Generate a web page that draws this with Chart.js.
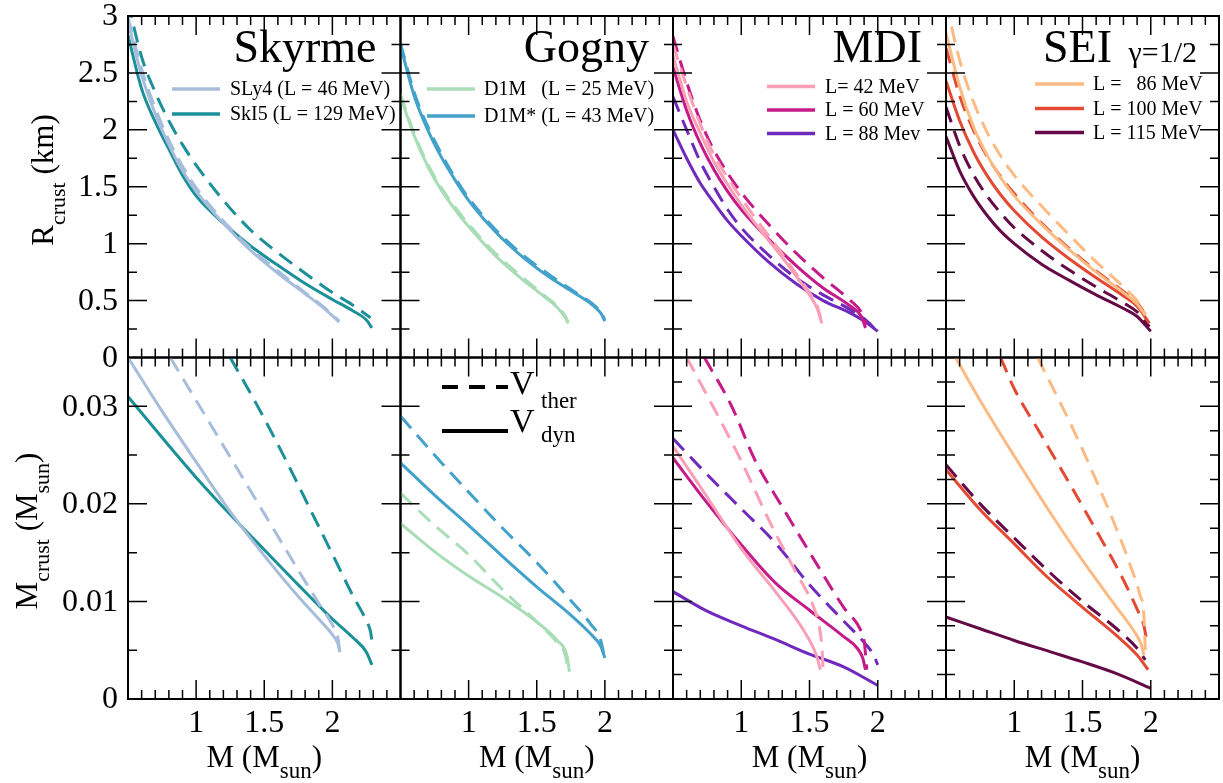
<!DOCTYPE html>
<html>
<head>
<meta charset="utf-8">
<title>Crust thickness and crust mass</title>
<script src="https://cdn.jsdelivr.net/npm/chart.js@4.4.0/dist/chart.umd.min.js"></script>
<style>
    body { margin: 0; background: #fff; font-family: "Liberation Serif", serif; }
    #wrap { position: relative; width: 1223px; height: 783px; }
    #wrap canvas { position: absolute; left: 0; top: 0; }
</style>
</head>
<body>
<div id="wrap"></div>
<script>
// Tick labels
const massTicks = ['1', '1.5', '2'];
const radiusTicks = ['0', '0.5', '1', '1.5', '2', '2.5', '3'];
const crustMassTicks = ['0', '0.01', '0.02', '0.03'];

// Legend labels
const skyrmeLabels = ['SLy4 (L = 46 MeV)', 'SkI5 (L = 129 MeV)'];
const gognyLabels = ['D1M   (L = 25 MeV)', 'D1M* (L = 43 MeV)'];
const mdiLabels = ['L= 42 MeV', 'L = 60 MeV', 'L = 88 Mev'];
const seiLabels = ['L =   86 MeV', 'L = 100 MeV', 'L = 115 MeV'];

// Skyrme - R_crust (km) vs M (Msun)
const sly4Rdyn = [[0.5,2.95],[0.6,2.48],[0.7,2.14],[0.8,1.87],[0.9,1.64],[1.0,1.46],[1.2,1.18],[1.4,0.94],[1.6,0.74],[1.8,0.56],[1.95,0.42],[2.05,0.31]];
const sly4Rther = [[0.5,2.99],[0.6,2.53],[0.7,2.19],[0.8,1.91],[0.9,1.68],[1.0,1.49],[1.2,1.2],[1.4,0.96],[1.6,0.76],[1.8,0.57],[1.95,0.43],[2.05,0.32]];
const ski5Rdyn = [[0.5,2.83],[0.6,2.36],[0.7,2.07],[0.8,1.83],[0.9,1.6],[1.0,1.42],[1.2,1.18],[1.4,0.98],[1.6,0.81],[1.8,0.65],[2.0,0.51],[2.15,0.41],[2.25,0.33],[2.29,0.26]];
const ski5Rther = [[0.5,3.12],[0.6,2.64],[0.7,2.33],[0.8,2.08],[0.9,1.87],[1.0,1.69],[1.2,1.38],[1.4,1.12],[1.6,0.92],[1.8,0.74],[2.0,0.57],[2.15,0.46],[2.28,0.35]];

// Skyrme - M_crust (Msun)
const sly4Mdyn = [[0.5,0.035],[0.75,0.0295],[1.0,0.0243],[1.25,0.0192],[1.5,0.0147],[1.75,0.0105],[1.9,0.0082],[2.0,0.0066],[2.04,0.0057],[2.055,0.0048]];
const sly4Mther = [[0.81,0.035],[1.0,0.0306],[1.25,0.0248],[1.5,0.019],[1.75,0.0132],[1.9,0.0098],[2.0,0.0076],[2.04,0.0063],[2.055,0.0047]];
const ski5Mdyn = [[0.5,0.031],[0.75,0.0268],[1.0,0.0227],[1.25,0.0189],[1.5,0.0153],[1.75,0.0117],[2.0,0.0082],[2.15,0.0063],[2.25,0.0048],[2.29,0.0035]];
const ski5Mther = [[1.25,0.035],[1.44,0.0303],[1.64,0.025],[1.86,0.0188],[2.03,0.014],[2.15,0.0106],[2.25,0.008],[2.28,0.0069],[2.29,0.006]];

// Gogny
const d1mRdyn = [[0.5,2.29],[0.6,1.95],[0.7,1.68],[0.8,1.47],[0.9,1.3],[1.0,1.15],[1.2,0.89],[1.4,0.68],[1.55,0.54],[1.65,0.44],[1.71,0.35],[1.73,0.3]];
const d1mRther = [[0.5,2.31],[0.6,1.97],[0.7,1.7],[0.8,1.49],[0.9,1.32],[1.0,1.17],[1.2,0.91],[1.4,0.7],[1.55,0.55],[1.65,0.45],[1.71,0.36],[1.73,0.31]];
const d1msRdyn = [[0.5,2.74],[0.6,2.3],[0.7,2.0],[0.8,1.76],[0.9,1.56],[1.0,1.38],[1.2,1.1],[1.4,0.88],[1.6,0.7],[1.8,0.55],[1.9,0.47],[1.97,0.39],[2.0,0.32]];
const d1msRther = [[0.5,2.76],[0.6,2.33],[0.7,2.03],[0.8,1.79],[0.9,1.58],[1.0,1.4],[1.2,1.12],[1.4,0.9],[1.6,0.72],[1.8,0.56],[1.9,0.48],[1.97,0.4],[2.0,0.33]];

const d1mMdyn = [[0.5,0.018],[0.75,0.0151],[1.0,0.0126],[1.25,0.0104],[1.5,0.0079],[1.65,0.006],[1.72,0.0045],[1.74,0.0028]];
const d1mMther = [[0.5,0.0211],[0.75,0.0178],[1.0,0.0148],[1.25,0.0112],[1.5,0.0079],[1.65,0.0058],[1.71,0.0045],[1.73,0.003]];
const d1msMdyn = [[0.5,0.0242],[0.75,0.0209],[1.0,0.0178],[1.25,0.0146],[1.5,0.0115],[1.75,0.0086],[1.9,0.0066],[1.97,0.0054],[2.0,0.0042]];
const d1msMther = [[0.5,0.029],[0.75,0.025],[1.0,0.0212],[1.25,0.0175],[1.5,0.014],[1.75,0.0101],[1.9,0.0076],[1.97,0.006],[2.0,0.004]];

// MDI
const mdi42Rdyn = [[0.5,2.65],[0.6,2.25],[0.7,1.97],[0.8,1.72],[0.9,1.52],[1.0,1.34],[1.1,1.18],[1.2,1.03],[1.3,0.88],[1.4,0.72],[1.5,0.55],[1.56,0.42],[1.59,0.3]];
const mdi42Rther = [[0.5,2.75],[0.6,2.38],[0.7,2.05],[0.8,1.78],[0.9,1.58],[1.0,1.4],[1.1,1.23],[1.2,1.07],[1.3,0.91],[1.4,0.74],[1.5,0.57],[1.56,0.44],[1.59,0.3]];
const mdi60Rdyn = [[0.5,2.55],[0.6,2.17],[0.7,1.88],[0.8,1.65],[0.9,1.46],[1.0,1.3],[1.2,1.04],[1.4,0.81],[1.6,0.61],[1.8,0.45],[1.88,0.36],[1.91,0.26]];
const mdi60Rther = [[0.5,2.82],[0.6,2.42],[0.7,2.08],[0.8,1.82],[0.9,1.62],[1.0,1.45],[1.2,1.17],[1.4,0.92],[1.6,0.7],[1.8,0.5],[1.88,0.4],[1.92,0.29]];
const mdi88Rdyn = [[0.5,2.0],[0.6,1.75],[0.7,1.53],[0.8,1.36],[0.9,1.2],[1.0,1.07],[1.2,0.84],[1.4,0.65],[1.6,0.5],[1.8,0.39],[1.9,0.32],[2.0,0.23]];
const mdi88Rther = [[0.5,2.29],[0.6,2.0],[0.7,1.72],[0.8,1.5],[0.9,1.3],[1.0,1.14],[1.2,0.9],[1.4,0.7],[1.6,0.55],[1.8,0.42],[1.9,0.34],[1.99,0.24]];

const mdi42Mdyn = [[0.5,0.0259],[0.75,0.0207],[1.0,0.0154],[1.25,0.011],[1.45,0.0072],[1.55,0.0045],[1.58,0.003]];
const mdi42Mther = [[0.6,0.035],[0.8,0.0298],[1.0,0.0244],[1.2,0.0184],[1.4,0.013],[1.52,0.0098],[1.57,0.0075],[1.59,0.0055],[1.6,0.003]];
const mdi60Mdyn = [[0.5,0.0247],[0.75,0.0201],[1.0,0.0158],[1.25,0.0119],[1.5,0.0091],[1.75,0.0064],[1.85,0.0052],[1.89,0.0042],[1.91,0.003]];
const mdi60Mther = [[0.73,0.035],[0.93,0.03],[1.1,0.0245],[1.3,0.0197],[1.55,0.0139],[1.75,0.0094],[1.87,0.0072],[1.9,0.006],[1.92,0.003]];
const mdi88Mdyn = [[0.5,0.011],[0.75,0.009],[1.0,0.0075],[1.25,0.0061],[1.5,0.0046],[1.75,0.0033],[2.0,0.0014]];
const mdi88Mther = [[0.5,0.0267],[0.75,0.023],[1.0,0.0195],[1.25,0.016],[1.5,0.0117],[1.75,0.008],[1.9,0.0058],[1.97,0.0045],[2.0,0.0035]];

// SEI gamma = 1/2
const sei86Rdyn = [[0.5,2.85],[0.6,2.38],[0.7,2.03],[0.8,1.78],[0.9,1.58],[1.0,1.42],[1.2,1.17],[1.4,0.95],[1.6,0.75],[1.8,0.57],[1.9,0.47],[1.96,0.37]];
const sei86Rther = [[0.5,3.12],[0.6,2.61],[0.7,2.25],[0.8,1.98],[0.9,1.77],[1.0,1.6],[1.2,1.33],[1.4,1.08],[1.6,0.84],[1.8,0.62],[1.9,0.5],[1.96,0.38]];
const sei100Rdyn = [[0.5,2.43],[0.6,2.08],[0.7,1.81],[0.8,1.6],[0.9,1.43],[1.0,1.29],[1.2,1.06],[1.4,0.87],[1.6,0.7],[1.8,0.54],[1.9,0.45],[1.99,0.3]];
const sei100Rther = [[0.5,2.72],[0.6,2.3],[0.7,2.0],[0.8,1.77],[0.9,1.59],[1.0,1.44],[1.2,1.18],[1.4,0.96],[1.6,0.76],[1.8,0.58],[1.9,0.48],[1.98,0.34]];
const sei115Rdyn = [[0.5,1.94],[0.6,1.64],[0.7,1.42],[0.8,1.25],[0.9,1.11],[1.0,1.0],[1.2,0.82],[1.4,0.68],[1.6,0.55],[1.8,0.43],[1.9,0.36],[2.0,0.23]];
const sei115Rther = [[0.5,2.2],[0.6,1.86],[0.7,1.61],[0.8,1.42],[0.9,1.27],[1.0,1.14],[1.2,0.94],[1.4,0.77],[1.6,0.62],[1.8,0.48],[1.9,0.4],[1.99,0.27]];

const sei86Mdyn = [[0.57,0.035],[0.75,0.0306],[1.0,0.0249],[1.25,0.0194],[1.5,0.0142],[1.75,0.0094],[1.88,0.0069],[1.93,0.0056],[1.95,0.0045]];
const sei86Mther = [[1.17,0.035],[1.3,0.0314],[1.45,0.0271],[1.6,0.0224],[1.75,0.0174],[1.85,0.0137],[1.92,0.0107],[1.95,0.0085],[1.96,0.005]];
const sei100Mdyn = [[0.5,0.0235],[0.75,0.0194],[1.0,0.0159],[1.25,0.0124],[1.5,0.0094],[1.75,0.0065],[1.9,0.0045],[1.98,0.003]];
const sei100Mther = [[0.9,0.035],[1.0,0.0318],[1.2,0.027],[1.4,0.0222],[1.6,0.0173],[1.8,0.0122],[1.9,0.0092],[1.95,0.0075],[1.97,0.006]];
const sei115Mdyn = [[0.5,0.0084],[0.75,0.0072],[1.0,0.006],[1.25,0.0049],[1.5,0.0038],[1.75,0.0026],[2.0,0.0011]];
const sei115Mther = [[0.5,0.024],[0.75,0.02],[1.0,0.0165],[1.25,0.0131],[1.5,0.01],[1.75,0.0072],[1.9,0.0052],[1.96,0.004]];

// Colours
const colors = {
    sly4: '#a6bddb', ski5: '#1c9099',
    d1m: '#a8ddb5', d1ms: '#43a2ca',
    mdi42: '#fa9fb5', mdi60: '#c51b8a', mdi88: '#7029bd',
    sei86: '#fdbb84', sei100: '#e34a33', sei115: '#640a46'
};

// Frame of the 2 x 4 grid (page pixels)
const COLS = [128, 400.5, 673, 946, 1219];
const ROWS = [16, 357.5, 699];
const W = 1223, H = 783;
const SERIF = '"Liberation Serif", serif';

function curve(points, color, dashed) {
    return { points, color, dashed };
}

const panels = [
    { col: 0, row: 0, title: 'Skyrme', legend: { labels: skyrmeLabels, colors: [colors.sly4, colors.ski5], x0: 172, x1: 220, tx: 230, ys: [89, 114] },
      series: [curve(sly4Rdyn, colors.sly4), curve(sly4Rther, colors.sly4, true), curve(ski5Rdyn, colors.ski5), curve(ski5Rther, colors.ski5, true)] },
    { col: 1, row: 0, title: 'Gogny', legend: { labels: gognyLabels, colors: [colors.d1m, colors.d1ms], x0: 427, x1: 475, tx: 484, ys: [89, 116] },
      series: [curve(d1mRdyn, colors.d1m), curve(d1mRther, colors.d1m, true), curve(d1msRdyn, colors.d1ms), curve(d1msRther, colors.d1ms, true)] },
    { col: 2, row: 0, title: 'MDI', legend: { labels: mdiLabels, colors: [colors.mdi42, colors.mdi60, colors.mdi88], x0: 767, x1: 815, tx: 825, ys: [86.5, 110, 133.5] },
      series: [curve(mdi42Rdyn, colors.mdi42), curve(mdi42Rther, colors.mdi42, true), curve(mdi60Rdyn, colors.mdi60), curve(mdi60Rther, colors.mdi60, true),
               curve(mdi88Rdyn, colors.mdi88), curve(mdi88Rther, colors.mdi88, true)] },
    { col: 3, row: 0, title: 'SEI', legend: { labels: seiLabels, colors: [colors.sei86, colors.sei100, colors.sei115], x0: 1035, x1: 1084, tx: 1093, ys: [84, 108.5, 132.5] },
      series: [curve(sei86Rdyn, colors.sei86), curve(sei86Rther, colors.sei86, true), curve(sei100Rdyn, colors.sei100), curve(sei100Rther, colors.sei100, true),
               curve(sei115Rdyn, colors.sei115), curve(sei115Rther, colors.sei115, true)] },
    { col: 0, row: 1,
      series: [curve(sly4Mdyn, colors.sly4), curve(sly4Mther, colors.sly4, true), curve(ski5Mdyn, colors.ski5), curve(ski5Mther, colors.ski5, true)] },
    { col: 1, row: 1, vLegend: true,
      series: [curve(d1mMdyn, colors.d1m), curve(d1mMther, colors.d1m, true), curve(d1msMdyn, colors.d1ms), curve(d1msMther, colors.d1ms, true)] },
    { col: 2, row: 1,
      series: [curve(mdi42Mdyn, colors.mdi42), curve(mdi42Mther, colors.mdi42, true), curve(mdi60Mdyn, colors.mdi60), curve(mdi60Mther, colors.mdi60, true),
               curve(mdi88Mdyn, colors.mdi88), curve(mdi88Mther, colors.mdi88, true)] },
    { col: 3, row: 1,
      series: [curve(sei86Mdyn, colors.sei86), curve(sei86Mther, colors.sei86, true), curve(sei100Mdyn, colors.sei100), curve(sei100Mther, colors.sei100, true),
               curve(sei115Mdyn, colors.sei115), curve(sei115Mther, colors.sei115, true)] }
];

// text made of pieces [text, size, shift] drawn one after the other
function drawPieces(ctx, pieces, x, y, align) {
    let total = 0;
    pieces.forEach(p => {
        ctx.font = p[1] + 'px ' + SERIF;
        total += ctx.measureText(p[0]).width;
    });
    let cx = align === 'center' ? x - total / 2 : (align === 'right' ? x - total : x);
    ctx.textAlign = 'left';
    ctx.textBaseline = 'alphabetic';
    pieces.forEach(p => {
        ctx.font = p[1] + 'px ' + SERIF;
        ctx.fillText(p[0], cx, y + p[2]);
        cx += ctx.measureText(p[0]).width;
    });
}

function decor(p) {
    return {
        id: 'decor' + p.col + p.row,
        afterDraw(chart) {
            const ctx = chart.ctx;
            const a = chart.chartArea;
            const xs = chart.scales.x, ys = chart.scales.y;
            ctx.save();
            ctx.strokeStyle = '#000';
            ctx.fillStyle = '#000';

            // inward ticks on all four sides
            ctx.lineWidth = 1.5;
            ctx.beginPath();
            for (let i = 6; i <= 24; i++) {
                const px = xs.getPixelForValue(i / 10);
                const len = i % 5 === 0 ? 19 : 9;
                ctx.moveTo(px, a.top); ctx.lineTo(px, a.top + len);
                ctx.moveTo(px, a.bottom); ctx.lineTo(px, a.bottom - len);
            }
            const step = p.row === 0 ? 0.25 : (p.col < 2 ? 0.005 : 0.0025);
            const every = p.row === 0 ? 2 : (p.col < 2 ? 2 : 4);
            const n = Math.round(ys.max / step);
            for (let i = 1; i < n; i++) {
                const py = ys.getPixelForValue(i * step);
                const len = i % every === 0 ? 19 : 9;
                ctx.moveTo(a.left, py); ctx.lineTo(a.left + len, py);
                ctx.moveTo(a.right, py); ctx.lineTo(a.right - len, py);
            }
            ctx.stroke();
            ctx.lineWidth = 2;
            ctx.strokeRect(a.left, a.top, a.right - a.left, a.bottom - a.top);

            // y tick labels and title on the first column
            if (p.col === 0) {
                ctx.font = '32px ' + SERIF;
                ctx.textAlign = 'right';
                ctx.textBaseline = 'middle';
                const labels = p.row === 0 ? radiusTicks : crustMassTicks;
                labels.forEach(t => ctx.fillText(t, 118, ys.getPixelForValue(parseFloat(t)) + 1));

                ctx.save();
                if (p.row === 0) {
                    ctx.translate(53, 180);
                    ctx.rotate(-Math.PI / 2);
                    drawPieces(ctx, [['R', 31, 0], ['crust', 22, 12], [' (km)', 31, 0]], 0, 0, 'center');
                } else {
                    ctx.translate(37, 531);
                    ctx.rotate(-Math.PI / 2);
                    drawPieces(ctx, [['M', 31, 0], ['crust', 22, 12], [' (M', 31, 0], ['sun', 22, 12], [')', 31, 0]], 0, 0, 'center');
                }
                ctx.restore();
            }

            // x tick labels and title on the bottom row
            if (p.row === 1) {
                ctx.font = '32px ' + SERIF;
                ctx.textAlign = 'center';
                ctx.textBaseline = 'alphabetic';
                massTicks.forEach(t => ctx.fillText(t, xs.getPixelForValue(parseFloat(t)), 732));
                drawPieces(ctx, [['M (M', 31, 0], ['sun', 23, 11], [')', 31, 0]], (a.left + a.right) / 2, 767, 'center');
            }

            // panel title
            if (p.title) {
                ctx.font = '46px ' + SERIF;
                ctx.textAlign = 'right';
                ctx.textBaseline = 'alphabetic';
                if (p.title === 'SEI') {
                    ctx.fillText('SEI', 1112, 62);
                    ctx.font = '30px ' + SERIF;
                    ctx.fillText('\u03b3=1/2', 1197, 62);
                } else {
                    ctx.fillText(p.title, a.right - 24, 62);
                }
            }

            // model legend
            if (p.legend) {
                const lg = p.legend;
                ctx.lineWidth = 3.5;
                ctx.font = '20px ' + SERIF;
                ctx.textAlign = 'left';
                ctx.textBaseline = 'middle';
                lg.labels.forEach((t, i) => {
                    ctx.strokeStyle = lg.colors[i];
                    ctx.beginPath();
                    ctx.moveTo(lg.x0, lg.ys[i]);
                    ctx.lineTo(lg.x1, lg.ys[i]);
                    ctx.stroke();
                    ctx.fillText(t, lg.tx, lg.ys[i] + 1);
                });
            }

            // line style legend
            if (p.vLegend) {
                ctx.strokeStyle = '#000';
                ctx.lineWidth = 4;
                ctx.beginPath();
                ctx.setLineDash([16, 11]);
                ctx.moveTo(442, 387); ctx.lineTo(508, 387);
                ctx.stroke();
                ctx.setLineDash([]);
                ctx.beginPath();
                ctx.moveTo(442, 431); ctx.lineTo(508, 431);
                ctx.stroke();
                drawPieces(ctx, [['V', 34, 0]], 510, 394, 'left');
                drawPieces(ctx, [['ther', 23, 0]], 541, 408, 'left');
                drawPieces(ctx, [['V', 34, 0]], 510, 432, 'left');
                drawPieces(ctx, [['dyn', 23, 0]], 541, 442, 'left');
            }
            ctx.restore();
        }
    };
}

const wrap = document.getElementById('wrap');

function buildPanel(p) {
    const canvas = document.createElement('canvas');
    canvas.width = W;
    canvas.height = H;
    wrap.appendChild(canvas);

    const left = COLS[p.col], right = COLS[p.col + 1];
    const top = ROWS[p.row], bottom = ROWS[p.row + 1];

    new Chart(canvas, {
        type: 'line',
        data: {
            datasets: p.series.map(s => ({
                data: s.points.map(pt => ({ x: pt[0], y: pt[1] })),
                borderColor: s.color,
                borderWidth: 3,
                borderDash: s.dashed ? [16, 9] : [],
                pointRadius: 0,
                cubicInterpolationMode: 'monotone',
                fill: false,
                clip: 0
            }))
        },
        options: {
            responsive: false,
            animation: false,
            devicePixelRatio: 1,
            events: [],
            layout: { padding: { left: left, top: top, right: W - right, bottom: H - bottom } },
            scales: {
                x: { type: 'linear', min: 0.5, max: 2.5, display: false },
                y: { type: 'linear', min: 0, max: p.row === 0 ? 3 : 0.035, display: false }
            },
            plugins: {
                legend: { display: false },
                tooltip: { enabled: false },
                title: { display: false }
            }
        },
        plugins: [decor(p)]
    });
}

// make sure the serif face is ready before the canvases draw text
const fontSizes = [20, 22, 23, 30, 31, 32, 34, 46];
Promise.all(fontSizes.map(s => document.fonts.load(s + 'px "Liberation Serif"')))
    .catch(() => null)
    .then(() => panels.forEach(buildPanel));
</script>
</body>
</html>
